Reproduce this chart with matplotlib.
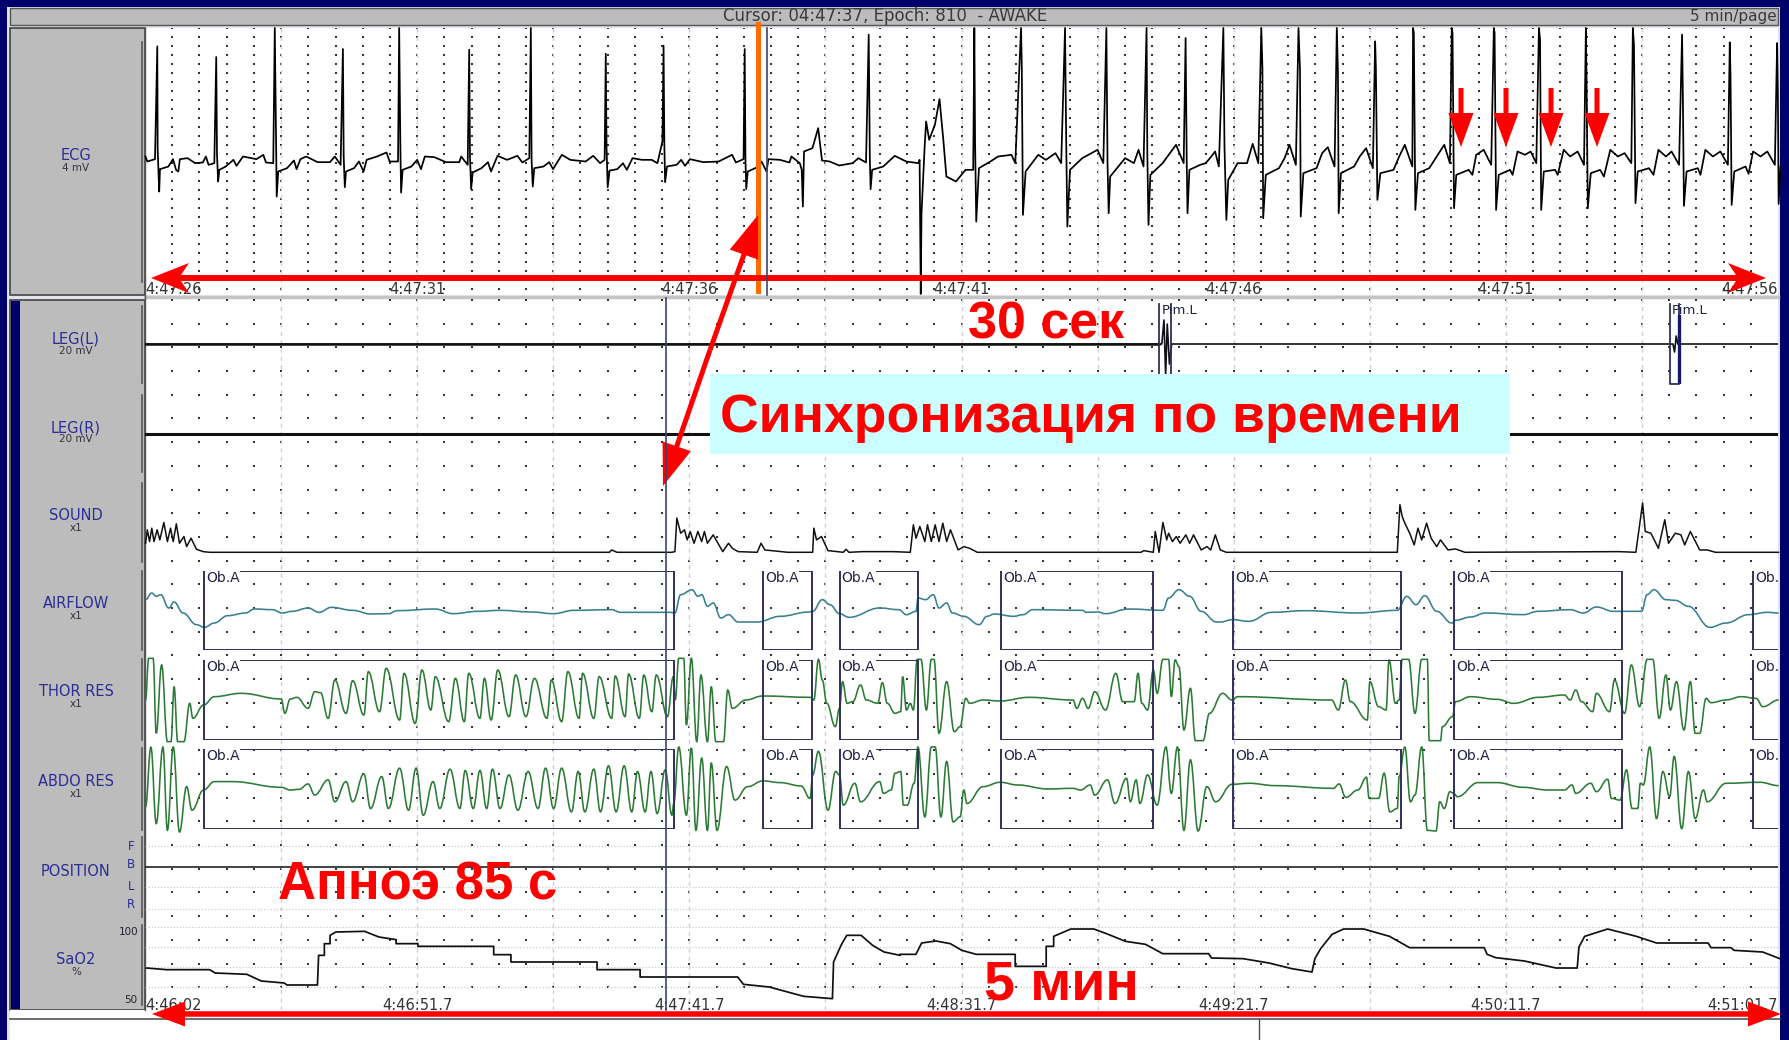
import numpy as np
import matplotlib
matplotlib.use('Agg')
import matplotlib.pyplot as plt
from matplotlib.patches import Polygon, Rectangle, PathPatch
from matplotlib.path import Path

W, H = 1789, 1040
PLOT_LEFT, PLOT_RIGHT = 145, 1778

ecg_crop1 = [(380,470),(385,485),(405,478),(411,140),(412,450),(416,575),(418,508),(440,500),(452,478),(460,510),(466,515),(470,478),(490,475),(510,490),(530,488),(538,470),(545,495),(560,490),(565,172),(567,465),(570,545),(573,510),(590,500),(610,480),(618,498),(635,470),(670,478),(688,465),(695,488),(714,490),(718,85),(720,280),(723,590),(727,515),(750,505),(768,482),(775,508),(785,478),(800,470),(830,487),(862,487),(875,470),(890,495),(896,148),(898,470),(901,562),(904,515),(925,505),(938,485),(950,515),(958,480),(985,470),(1010,458),(1018,485),(1040,485),(1043,85),(1046,430),(1048,578),(1052,510),(1075,500),(1090,480),(1100,508),(1110,470),(1135,472),(1165,487),(1200,487),(1205,470),(1222,495),(1226,150),(1228,470),(1231,568),(1235,518),(1258,505),(1275,487),(1283,515),(1300,468),(1325,480),(1352,468),(1365,488),(1383,475),(1387,85),(1389,480),(1392,560),(1396,505),(1420,500),(1435,487),(1445,508),(1468,465),(1490,480),(1530,485),(1550,468),(1568,490)]
ecg_crop2 = [(12,480),(15,162),(17,440),(20,562),(25,512),(45,508),(60,490),(70,510),(85,475),(110,480),(135,480),(150,490),(163,425),(166,138),(168,430),(170,547),(175,500),(200,495),(212,480),(222,498),(235,478),(270,487),(310,485),(345,465),(355,488),(375,478),(378,148),(380,480),(382,568),(386,515),(415,500),(422,485),(435,515),(440,478),(470,480),(495,488),(500,470),(522,490),(527,510),(530,620),(533,455),(555,445),(570,385),(580,482),(600,485),(625,497),(660,490),(675,475),(695,488),(702,105),(705,480),(707,568),(711,510),(740,500),(770,468),(800,485),(832,490),(835,480),(838,882),(840,640),(848,445),(852,365),(860,420),(875,375),(887,298),(897,420),(905,530),(930,545),(955,510),(975,510),(978,85),(980,430),(983,665),(990,505),(1020,485),(1040,470),(1075,465),(1085,490),(1100,85),(1102,200),(1105,645),(1112,515),(1145,465),(1165,480),(1190,460),(1205,490),(1215,85),(1218,420),(1221,680),(1228,510),(1260,475),(1300,450),(1315,490),(1323,85),(1326,490),(1329,640),(1333,530),(1372,475),(1395,490),(1407,450),(1420,500),(1428,85),(1430,460),(1433,675),(1438,525),(1470,490),(1505,435),(1525,490),(1530,115),(1533,490),(1535,640),(1540,510),(1568,495)]
ecg_crop3 = [(15,490),(30,470),(40,455),(50,500),(62,85),(65,440),(70,660),(75,540),(100,490),(125,490),(140,432),(155,490),(163,85),(166,205),(168,655),(175,525),(210,505),(225,475),(238,435),(255,495),(262,85),(266,210),(268,650),(275,520),(310,505),(325,460),(340,442),(358,500),(364,85),(367,220),(369,640),(375,520),(410,500),(425,470),(442,445),(460,505),(466,125),(468,205),(472,600),(480,520),(515,510),(530,470),(545,435),(565,500),(567,85),(569,100),(573,630),(580,520),(610,505),(630,470),(650,435),(665,490),(670,85),(672,100),(676,625),(682,525),(715,510),(725,525),(735,465),(755,450),(775,495),(782,85),(784,100),(788,630),(795,525),(825,510),(832,525),(845,455),(865,465),(880,455),(895,490),(902,85),(905,120),(908,630),(915,515),(945,510),(952,525),(968,450),(985,470),(1005,455),(1022,495),(1027,85),(1029,260),(1032,625),(1040,520),(1065,510),(1075,530),(1092,450),(1112,470),(1130,460),(1148,490),(1152,85),(1155,135),(1159,610),(1165,515),(1195,505),(1207,525),(1220,450),(1240,470),(1255,455),(1275,495),(1283,105),(1285,275),(1288,618),(1295,515),(1325,505),(1332,525),(1345,450),(1365,470),(1385,455),(1405,495),(1410,128),(1412,230),(1415,615),(1422,515),(1452,500),(1460,522),(1472,455),(1492,470),(1510,455),(1530,495),(1536,130),(1538,280),(1540,612),(1545,500)]

sound_crop4 = [(326,130),(330,90),(335,125),(340,85),(345,125),(352,90),(358,120),(367,68),(375,125),(382,85),(388,125),(395,72),(402,130),(412,110),(418,140),(428,115),(440,148),(455,155),(470,157),(1365,157),(1370,150),(1382,157),(1505,157)]
sound_crop5 = [(65,155),(70,55),(80,100),(90,90),(97,120),(105,95),(115,130),(125,95),(135,125),(142,95),(150,130),(165,105),(175,125),(190,155),(205,130),(215,145),(230,155),(280,157),(290,130),(300,150),(360,157),(425,157),(428,85),(435,120),(448,110),(465,152),(505,157),(512,148),(520,157),(555,155),(600,155),(635,155),(680,157),(688,75),(695,115),(705,80),(718,125),(725,75),(735,125),(745,75),(755,125),(765,70),(775,125),(785,90),(805,150),(820,140),(835,145),(855,157),(1283,157),(1290,152),(1315,157),(1320,95),(1330,157),(1340,68),(1350,120),(1355,100),(1365,125),(1375,110),(1385,130),(1400,105),(1410,130),(1420,105),(1440,150),(1455,140),(1465,150),(1477,105),(1490,150)]
sound_crop6 = [(70,157),(525,157),(532,15),(538,50),(545,70),(558,100),(570,135),(580,85),(590,120),(603,70),(615,115),(630,140),(640,120),(660,150),(680,147),(705,157),(1115,155),(1160,157),(1178,10),(1185,95),(1200,100),(1220,145),(1237,60),(1247,130),(1265,100),(1280,105),(1290,135),(1305,95),(1330,150),(1350,150),(1372,157),(1540,157)]

airflow_crop4 = [(326,300),(340,280),(350,290),(360,285),(378,325),(390,307),(410,340),(440,375),(458,383),(480,370),(510,348),(550,340),(570,328),(610,330),(632,340),(655,335),(690,325),(715,338),(742,323),(790,332),(830,343),(870,342),(890,333),(975,328),(1015,342),(1070,335),(1120,332),(1190,337),(1240,342),(1285,332),(1370,330),(1390,338),(1500,338)]
airflow_crop5 = [(65,340),(80,285),(110,270),(125,290),(135,285),(150,320),(165,310),(185,355),(205,345),(230,367),(280,367),(340,350),(415,337),(425,335),(450,300),(470,315),(495,342),(520,353),(600,325),(650,330),(670,345),(695,335),(700,295),(720,300),(740,285),(755,325),(775,310),(790,340),(820,350),(860,375),(880,350),(900,343),(950,350),(975,345),(1000,330),(1130,332),(1140,338),(1170,337),(1190,342),(1250,328),(1340,332),(1355,295),(1382,270),(1410,290),(1440,335),(1480,367)]
airflow_crop6 = [(55,367),(85,360),(130,365),(190,338),(280,333),(420,340),(525,332),(550,290),(575,315),(598,288),(630,335),(670,370),(680,362),(720,352),(760,340),(860,345),(900,335),(985,330),(1020,340),(1055,322),(1100,335),(1175,335),(1190,285),(1208,270),(1240,300),(1265,302),(1300,320),(1357,383),(1400,370),(1460,345),(1510,338),(1540,340)]

thor_crop4 = [(326,600),(333,475),(343,475),(350,700),(362,495),(375,725),(383,725),(390,560),(398,725),(412,725),(425,610),(432,655),(456,615),(480,590),(540,580),(630,597),(638,640),(650,597),(665,592),(690,625),(705,575),(718,578),(735,655),(750,540),(775,640),(790,542),(815,645),(825,515),(850,635),(865,505),(895,660),(905,520),(930,670),(945,510),(965,630),(975,530),(1005,665),(1020,535),(1040,665),(1050,520),(1075,655),(1085,535),(1100,660),(1115,510),(1140,650),(1155,525),(1178,650),(1197,535),(1225,655),(1235,540),(1258,665),(1272,515),(1297,655),(1305,520),(1330,655),(1342,530),(1370,655),(1378,528),(1400,650),(1408,522),(1432,655),(1442,525),(1460,635),(1470,525),(1495,650),(1508,530)]
thor_crop5 = [(66,600),(75,475),(88,475),(95,675),(108,475),(122,725),(133,525),(150,725),(160,560),(172,725),(192,725),(203,570),(215,625),(250,600),(294,588),(420,592),(428,600),(440,478),(450,540),(462,610),(484,680),(495,625),(503,545),(515,610),(530,605),(550,555),(565,600),(595,610),(607,548),(620,610),(640,640),(655,635),(660,530),(670,630),(680,610),(688,630),(698,478),(708,478),(722,630),(735,478),(742,478),(755,700),(775,545),(795,695),(810,680),(825,595),(835,610),(870,600),(915,603),(990,592),(1105,600),(1115,625),(1130,595),(1145,625),(1162,575),(1190,630),(1217,520),(1235,605),(1265,605),(1275,520),(1285,610),(1300,630),(1315,510),(1325,580),(1340,478),(1355,478),(1362,590),(1372,480),(1382,500),(1395,690),(1412,565),(1425,722),(1445,722)]
thor_crop6 = [(25,640),(60,580),(85,600),(100,590),(350,600),(368,630),(387,540),(400,605),(445,660),(452,545),(475,620),(495,630),(503,480),(520,610),(530,600),(538,478),(555,478),(572,640),(590,478),(605,478),(610,722),(640,722),(645,680),(672,650),(680,605),(720,590),(790,598),(835,610),(900,592),(970,585),(985,600),(1000,570),(1015,605),(1045,635),(1055,580),(1090,635),(1103,540),(1130,640),(1148,495),(1170,620),(1190,478),(1205,478),(1222,655),(1240,525),(1252,630),(1268,545),(1288,690),(1305,545),(1318,700),(1330,700),(1347,595),(1360,608),(1400,600),(1440,590),(1480,595),(1498,620),(1540,600)]

abdo_crop4 = [(326,920),(338,742),(350,970),(365,742),(375,990),(388,742),(402,995),(418,860),(430,930),(456,870),(480,845),(520,845),(630,862),(650,870),(670,868),(690,852),(705,885),(735,840),(750,905),(775,845),(790,905),(815,822),(830,925),(855,830),(870,925),(895,805),(915,930),(932,805),(948,945),(970,845),(985,925),(1008,808),(1030,925),(1042,812),(1060,925),(1075,812),(1090,925),(1103,808),(1120,925),(1140,825),(1160,930),(1183,815),(1205,925),(1222,805),(1240,925),(1258,805),(1280,935),(1295,815),(1310,935),(1330,808),(1345,935),(1363,798),(1380,935),(1398,798),(1415,935),(1428,815),(1445,935),(1458,815),(1472,940),(1490,810),(1505,945)]
abdo_crop5 = [(62,910),(75,742),(95,945),(108,745),(120,990),(135,775),(150,990),(160,790),(175,990),(200,800),(222,900),(255,860),(295,843),(340,848),(395,858),(418,895),(425,825),(440,755),(465,930),(485,815),(495,825),(505,915),(535,850),(550,905),(600,845),(610,880),(630,870),(640,820),(655,815),(662,915),(672,915),(690,850),(700,742),(718,950),(735,742),(745,742),(760,950),(775,785),(792,965),(810,950),(820,870),(828,910),(870,860),(915,847),(960,855),(1040,867),(1105,865),(1125,870),(1150,855),(1162,885),(1195,840),(1215,910),(1245,835),(1255,905),(1270,840),(1280,910),(1300,825),(1325,915),(1348,742),(1362,880),(1378,742),(1395,990),(1412,780),(1432,992),(1455,860),(1478,905)]
abdo_crop6 = [(85,853),(130,850),(200,857),(355,865),(370,852),(388,892),(420,870),(443,832),(450,895),(475,895),(490,820),(505,935),(525,925),(530,830),(545,742),(560,905),(572,885),(590,742),(605,990),(628,992),(638,905),(650,925),(665,875),(675,880),(685,890),(740,848),(790,848),(860,862),(925,870),(970,870),(990,855),(1000,880),(1040,850),(1055,875),(1085,838),(1095,895),(1118,900),(1135,810),(1150,925),(1165,925),(1172,850),(1180,855),(1197,742),(1215,955),(1232,815),(1250,890),(1262,770),(1282,985),(1300,815),(1318,955),(1340,870),(1350,905),(1400,850),(1490,847),(1540,857)]

sao2_crop7 = [(255,413),(290,418),(365,418),(375,428),(430,432),(455,452),(495,458),(500,464),(553,464),(555,375),(565,375),(565,340),(575,340),(575,315),(585,305),(635,303),(660,320),(690,328),(690,340),(728,340),(728,348),(860,348),(860,373),(890,373),(890,395),(1040,395),(1040,418),(1115,418),(1115,440),(1285,440),(1295,462),(1340,470),(1400,498),(1450,505),(1452,395),(1465,345),(1475,315),(1500,315),(1520,345),(1540,365),(1568,375)]
sao2_crop8 = [(17,372),(45,372),(55,338),(80,332),(105,340),(125,360),(150,372),(207,372),(218,372),(218,408),(272,408),(272,348),(285,348),(285,318),(315,296),(355,296),(380,312),(410,333),(445,342),(475,370),(555,370),(560,383),(615,385),(660,398),(700,415),(735,425),(740,385),(750,355),(770,312),(790,296),(825,296),(870,318),(905,352),(1035,352),(1040,372),(1055,382),(1105,392),(1160,413),(1197,413),(1200,350),(1210,318),(1250,296),(1300,318),(1335,338),(1425,338),(1430,352),(1465,352),(1470,360),(1520,365),(1550,385)]

# leg channels in mV, seconds on the page
leg_l_t = [0, 186.8, 187.2, 187.5, 187.8, 188.2, 188.6, 280.7, 281.0, 281.3, 281.6, 300]
leg_l_v = [0, 0, 6, -8, 5, -5, 0, 0, -2, 2, 0, 0]
leg_r_t = [0, 300]
leg_r_v = [0, 0]
position_t = [0, 300]
position_v = [1, 1]

# apnea events (seconds on the 5 min page)
oba_start = [10.8, 113.5, 127.6, 157.2, 199.8, 240.4, 295.4]
oba_end = [97.1, 122.5, 142.0, 185.2, 230.7, 271.3, 306.0]
plm_start = [186.3, 280.1]
plm_end = [188.5, 281.8]

ecg_ticks = [0, 5, 10, 15, 20, 25, 30]
ecg_labels = ['4:47:26', '4:47:31', '4:47:36', '4:47:41', '4:47:46', '4:47:51', '4:47:56']
low_ticks = [0, 50, 100, 150, 200, 250, 300]
low_labels = ['4:46:02', '4:46:51.7', '4:47:41.7', '4:48:31.7', '4:49:21.7', '4:50:11.7', '4:51:01.7']

NAVY = '#00006a'
GREY = '#bcbcbc'
LABEL = '#2c2c96'
BOX = '#2f2f5f'


def crop_xy(points, x0, fx):
    # crop coordinates -> screen column, crop row
    p = np.array(points, dtype=float)
    return x0 + p[:, 0] / fx, p[:, 1]


def join_crops(a, b, c):
    xa, ya = crop_xy(a, 0, 2.24)
    xb, yb = crop_xy(b, 650, 2.613)
    xc, yc = crop_xy(c, 1200, 2.662)
    return np.r_[xa, xb, xc], np.r_[ya, yb, yc]


def channel_axes(top, bottom, xmax, ylim):
    ax = fig.add_axes([PLOT_LEFT / W, 1 - bottom / H, (PLOT_RIGHT - PLOT_LEFT) / W, (bottom - top) / H])
    ax.set_xlim(0, xmax)
    ax.set_ylim(*ylim)
    ax.axis('off')
    ax.patch.set_alpha(0)
    return ax


def wave_patch(t, v, color):
    # the breathing traces are round at the turning points
    verts = [(t[0], v[0])]
    codes = [Path.MOVETO]
    for i in range(len(t) - 1):
        dt = (t[i + 1] - t[i]) * 0.4
        verts += [(t[i] + dt, v[i]), (t[i + 1] - dt, v[i + 1]), (t[i + 1], v[i + 1])]
        codes += [Path.CURVE4] * 3
    return PathPatch(Path(verts, codes), fill=False, ec=color, lw=1.15, clip_on=False)


def arrow_shape(x0, y0, x1, y1, w, hl, hw, barb=0.0):
    d = np.array([x1 - x0, y1 - y0], dtype=float)
    d /= np.hypot(*d)
    n = np.array([-d[1], d[0]])
    tip = np.array([x1, y1], dtype=float)
    base = tip - d * hl
    notch = base + d * barb
    start = np.array([x0, y0], dtype=float)
    return [start + n * w / 2, notch + n * w / 2, base + n * hw / 2, tip,
            base - n * hw / 2, notch - n * w / 2, start - n * w / 2]


fig = plt.figure(figsize=(W / 100, H / 100), dpi=100, facecolor=NAVY)

# window frame, in screen pixels
bg = fig.add_axes([0, 0, 1, 1])
bg.set_xlim(0, W)
bg.set_ylim(H, 0)
bg.axis('off')
bg.add_patch(Rectangle((7, 7), 1773, H, fc='#e4e4ec', ec='none'))
bg.add_patch(Rectangle((10, 8), 1768, 17, fc=GREY, ec='#555555', lw=1))
bg.add_patch(Rectangle((145, 28), 1633, 267, fc='white', ec='none'))
bg.add_patch(Rectangle((145, 298), 1633, 712, fc='white', ec='none'))
bg.add_patch(Rectangle((10, 28), 135, 267, fc=GREY, ec='#444444', lw=1.2))
bg.add_patch(Rectangle((10, 300), 135, 710, fc=GREY, ec='#444444', lw=1.2))
bg.add_patch(Rectangle((11, 301), 9, 708, fc=NAVY, ec='none'))
bg.add_patch(Rectangle((10, 1010), 1770, 30, fc='white', ec='none'))
bg.plot([10, 1780], [1019, 1019], color='#555555', lw=1.2)
bg.plot([1259, 1259], [1019, 1040], color='#664444', lw=1)
bg.plot([145, 1778], [297, 297], color='#c4c4c4', lw=2.5)
bg.plot([145, 145], [28, 1010], color='#555555', lw=1)
for top, bot in [(42, 282), (306, 383), (395, 472), (483, 562), (571, 650), (659, 740), (748, 830), (837, 917), (925, 1005)]:
    bg.plot([141.5, 141.5], [top, bot], color='#555555', lw=1.2)

bg.text(885, 16, 'Cursor: 04:47:37, Epoch: 810  - AWAKE', ha='center', va='center', color='#3a3a3a', fontsize=12)
bg.text(1777, 16, '5 min/page', ha='right', va='center', color='#3a3a3a', fontsize=11)

labels = [('ECG', '4 mV', 156, 168), ('LEG(L)', '20 mV', 339, 351), ('LEG(R)', '20 mV', 428, 439),
          ('SOUND', 'x1', 516, 528), ('AIRFLOW', 'x1', 604, 616), ('THOR RES', 'x1', 692, 704),
          ('ABDO RES', 'x1', 782, 794), ('SaO2', '%', 960, 972)]
for name, unit, r1, r2 in labels:
    bg.text(76, r1, name, ha='center', va='center', color=LABEL, fontsize=10.5)
    bg.text(76, r2, unit, ha='center', va='center', color='#333344', fontsize=7.5)
bg.text(76, 871, 'POSITION', ha='center', va='center', color=LABEL, fontsize=10.5)
for s, r in zip('FBLR', [846, 865, 887, 905]):
    bg.text(131, r, s, ha='center', va='center', color=LABEL, fontsize=8.5)
bg.text(129, 932, '100', ha='center', va='center', color='#222233', fontsize=7.5)
bg.text(131, 1000, '50', ha='center', va='center', color='#222233', fontsize=7.5)

# grids
top_grid = channel_axes(28, 295, 30, (295, 28))
cols, rows = np.meshgrid(np.arange(0.5, 30, 0.5), np.arange(28, 296, 9))
top_grid.scatter(cols.ravel(), rows.ravel(), s=0.9, c='#333333', marker='s', linewidths=0)
for t in np.arange(2.5, 30, 2.5):
    top_grid.plot([t, t], [28, 295], color='#d0d0d0', lw=1, ls=(0, (3, 3)))
for t, lab in zip(ecg_ticks, ecg_labels):
    ha = 'left' if t == 0 else ('right' if t == 30 else 'center')
    top_grid.text(t, 290, lab, ha=ha, va='center', fontsize=10.5, color='#333333')

low_grid = channel_axes(298, 1010, 300, (1010, 298))
cols, rows = np.meshgrid(np.arange(5, 300, 5), np.arange(300, 1000, 23.7))
low_grid.scatter(cols.ravel(), rows.ravel(), s=0.9, c='#333333', marker='s', linewidths=0)
for t in np.arange(25, 300, 25):
    low_grid.plot([t, t], [298, 1010], color='#d0d0d0', lw=1, ls=(0, (3, 3)))
for r in [846, 887, 909, 927, 947, 967, 987]:
    low_grid.plot([0, 300], [r, r], color='#cccccc', lw=0.9, ls=(0, (1, 1.5)))
for t, lab in zip(low_ticks, low_labels):
    ha = 'left' if t == 0 else ('right' if t == 300 else 'center')
    low_grid.text(t, 1006, lab, ha=ha, va='center', fontsize=10.5, color='#333333')

# ECG, 30 s page
xa, ya = crop_xy(ecg_crop1, 0, 2.613)
xb, yb = crop_xy(ecg_crop2, 600, 2.613)
xc, yc = crop_xy(ecg_crop3, 1200, 2.662)
ecg_t = (np.r_[xa, xb, xc] - PLOT_LEFT) / 54.43
ecg_mv = (490 - np.r_[ya, yb, yc]) / 200
ax_ecg = channel_axes(28, 295, 30, ((490 - 885) / 200, (490 - 85) / 200))
ax_ecg.plot(ecg_t, ecg_mv, color='black', lw=1.25, clip_on=False)

# 5 min page channels
ax_l = channel_axes(304, 384, 300, (-10, 10))
ax_l.plot(leg_l_t, leg_l_v, color='#111111', lw=1.2)
ax_l.plot([0, 186.3], [0, 0], color='#111111', lw=1.8)
ax_r = channel_axes(394, 474, 300, (-10, 10))
ax_r.plot(leg_r_t, leg_r_v, color='#111111', lw=2.2)

for start, end in zip(plm_start, plm_end):
    ax_l.plot([start, start, end, end], [10, -10, -10, 10], color=BOX, lw=1.3, clip_on=False)
    ax_l.text(start + 0.4, 8.5, 'Pim.L', fontsize=9.5, color='#222244', va='center')
ax_l.plot([plm_end[1], plm_end[1]], [-10, 7], color='#16166a', lw=2.4)

t, v = join_crops(sound_crop4, sound_crop5, sound_crop6)
ax_snd = channel_axes(503, 552.3, 300, (0, 100))
ax_snd.plot((t - PLOT_LEFT) / 5.443, 100 * (157 - v) / 147, color='#111111', lw=1.1, clip_on=False)

channels = [(airflow_crop4, airflow_crop5, airflow_crop6, 571, 650, 214, 451, '#37808f'),
            (thor_crop4, thor_crop5, thor_crop6, 660, 740, 480, 720, '#2b7a35'),
            (abdo_crop4, abdo_crop5, abdo_crop6, 749, 829, 748, 986, '#2b7a35')]
for a, b, c, top, bot, ztop, zbot, col in channels:
    t, v = join_crops(a, b, c)
    ax = channel_axes(top, bot, 300, (0, 100))
    ax.add_patch(wave_patch((t - PLOT_LEFT) / 5.443, 100 * (zbot - v) / (zbot - ztop), col))
    for start, end in zip(oba_start, oba_end):
        ax.add_patch(Rectangle((start, 0), end - start, 100, fill=False, ec=BOX, lw=1.4))
        ax.text(start + 0.4, 91, 'Ob.A', fontsize=10, color='#222244', va='center', clip_on=True,
                bbox=dict(fc='white', ec='none', pad=0.6))

ax_pos = channel_axes(846, 909, 300, (3, 0))
ax_pos.plot(position_t, position_v, color='#222222', lw=1.2)

xa, ya = crop_xy(sao2_crop7, 0, 1.742)
xb, yb = crop_xy(sao2_crop8, 890, 1.742)
ax_sat = channel_axes(927, 1007, 300, (50, 100))
ax_sat.plot((np.r_[xa, xb] - PLOT_LEFT) / 5.443, 100 - (np.r_[ya, yb] - 290) * 50 / 240, color='#111111', lw=1.25, clip_on=False)

# cursor marks and annotations, in screen pixels
top = fig.add_axes([0, 0, 1, 1])
top.set_xlim(0, W)
top.set_ylim(H, 0)
top.axis('off')
top.patch.set_alpha(0)
top.plot([767, 767], [28, 295], color='#3a4470', lw=1.2)
top.plot([666, 666], [298, 1010], color='#3a4470', lw=1.2)
top.add_patch(Rectangle((755.5, 22), 5, 272, fc='#ff6a00', ec='none'))
top.add_patch(Rectangle((710, 374), 800, 80, fc='#ccffff', ec='none'))

red = '#ff0000'
top.add_patch(Polygon(arrow_shape(900, 278, 151, 278, 6, 38, 30, 8), fc=red, ec='none'))
top.add_patch(Polygon(arrow_shape(900, 278, 1766, 278, 6, 38, 30, 8), fc=red, ec='none'))
top.add_patch(Polygon(arrow_shape(900, 1014, 152, 1014, 5.5, 33, 25), fc=red, ec='none'))
top.add_patch(Polygon(arrow_shape(900, 1014, 1781, 1014, 5.5, 33, 25), fc=red, ec='none'))
top.add_patch(Polygon(arrow_shape(710, 350, 758, 215, 5, 42, 30), fc=red, ec='none'))
top.add_patch(Polygon(arrow_shape(710, 350, 663, 486, 5, 42, 30), fc=red, ec='none'))
for col in [1461, 1506, 1551, 1597]:
    top.add_patch(Polygon(arrow_shape(col, 88, col, 147, 5, 34, 25), fc=red, ec='none'))

bold = dict(family='Liberation Sans', fontweight='bold', color=red, va='center')
top.text(720, 418, 'Синхронизация по времени', fontsize=38.5, **bold)
top.text(968, 325, '30 сек', fontsize=37.5, **bold)
top.text(278, 885, 'Апноэ 85 с', fontsize=38, **bold)
top.text(984, 985, '5 мин', fontsize=40, **bold)

fig.savefig('out.png', dpi=100, facecolor=NAVY)
